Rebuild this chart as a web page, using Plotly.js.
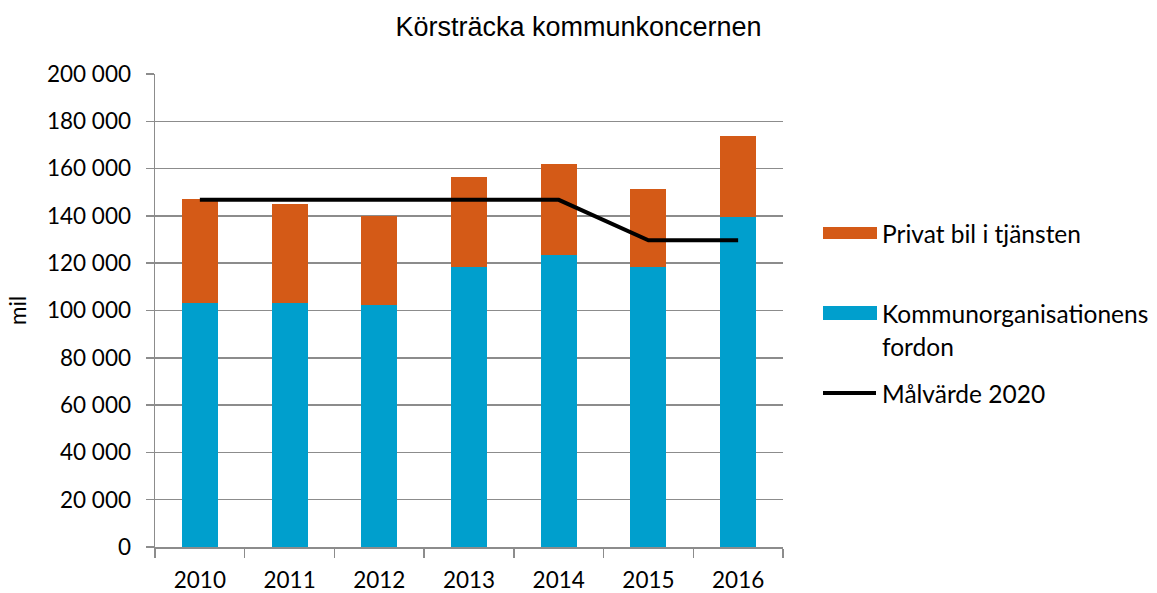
<!DOCTYPE html>
<html>
<head>
<meta charset="utf-8">
<script src="https://cdn.plot.ly/plotly-3.0.1.min.js"></script>
<style>html,body{margin:0;padding:0;background:#fff;}#chart{width:1157px;height:593px;}</style>
</head>
<body>
<div id="chart"></div>
<script>
const years = ['2010', '2011', '2012', '2013', '2014', '2015', '2016'];
const kommunFordon = [103000, 103000, 102200, 118600, 123300, 118300, 139700];
const privatBil = [44100, 42000, 37800, 38000, 38800, 33200, 34200];
const malvarde = [146800, 146800, 146800, 146800, 146800, 129700, 129700];
const seriesNames = ['Privat bil i tjänsten', 'Kommunorganisationens', 'fordon', 'Målvärde 2020'];
const colors = {blue: '#009FCD', orange: '#D45A17', line: '#000000', grid: '#8C8C8C'};

const tickFont = {family: 'Lato, "Open Sans", sans-serif', size: 22.5, color: '#000'};
const legendFont = {family: 'Lato, "Open Sans", sans-serif', size: 24.5, color: '#000'};

const traces = [
  {type: 'bar', x: years, y: kommunFordon, name: seriesNames[1], marker: {color: colors.blue}, showlegend: false, hoverinfo: 'skip'},
  {type: 'bar', x: years, y: privatBil, name: seriesNames[0], marker: {color: colors.orange}, showlegend: false, hoverinfo: 'skip'},
  {type: 'scatter', mode: 'lines', x: years, y: malvarde, name: seriesNames[3], line: {color: colors.line, width: 4}, showlegend: false, hoverinfo: 'skip'}
];

const W = 628, H = 473;
function px(x) { return (x - 155) / W; }
function py(y) { return (547 - y) / H; }

const layout = {
  width: 1157, height: 593,
  margin: {l: 155, r: 374, t: 74, b: 46},
  paper_bgcolor: '#fff', plot_bgcolor: '#fff',
  barmode: 'stack', bargap: 0.6,
  separators: ', ',
  title: {text: 'Körsträcka kommunkoncernen', x: 0.5, xref: 'container', y: 1 - 27 / 593, yref: 'container', yanchor: 'middle', xanchor: 'center',
          font: {family: '"Liberation Sans", Arial, sans-serif', size: 27, color: '#000'}},
  xaxis: {
    type: 'category', showgrid: false, showline: true, linecolor: colors.grid, linewidth: 1.5,
    ticks: 'outside', tickson: 'boundaries', ticklen: 9, tickcolor: colors.grid, tickwidth: 1.5,
    tickfont: tickFont, ticklabelstandoff: 12, fixedrange: true
  },
  yaxis: {
    range: [0, 200000], tickvals: [0,20000,40000,60000,80000,100000,120000,140000,160000,180000,200000],
    tickformat: ',d', showgrid: true, gridcolor: colors.grid, gridwidth: 1.5, zeroline: false,
    showline: true, linecolor: colors.grid, linewidth: 1.5,
    ticks: 'outside', ticklen: 8, tickcolor: colors.grid, tickwidth: 1.5,
    tickfont: tickFont, ticklabelstandoff: 10, fixedrange: true,
    title: {text: 'mil', font: tickFont, standoff: 14}
  },
  shapes: [
    {type: 'rect', xref: 'paper', yref: 'paper', x0: px(823), x1: px(877), y0: py(239), y1: py(227), fillcolor: colors.orange, line: {width: 0}},
    {type: 'rect', xref: 'paper', yref: 'paper', x0: px(823), x1: px(877), y0: py(320), y1: py(306), fillcolor: colors.blue, line: {width: 0}},
    {type: 'line', xref: 'paper', yref: 'paper', x0: px(823), x1: px(876), y0: py(393), y1: py(393), line: {color: colors.line, width: 4}}
  ],
  annotations: [
    {xref: 'paper', yref: 'paper', x: px(880), y: py(233), xanchor: 'left', yanchor: 'middle', text: seriesNames[0], showarrow: false, font: legendFont},
    {xref: 'paper', yref: 'paper', x: px(880), y: py(313), xanchor: 'left', yanchor: 'middle', text: seriesNames[1], showarrow: false, font: legendFont},
    {xref: 'paper', yref: 'paper', x: px(880), y: py(346), xanchor: 'left', yanchor: 'middle', text: seriesNames[2], showarrow: false, font: legendFont},
    {xref: 'paper', yref: 'paper', x: px(880), y: py(393), xanchor: 'left', yanchor: 'middle', text: seriesNames[3], showarrow: false, font: legendFont}
  ]
};

Plotly.newPlot('chart', traces, layout, {displayModeBar: false, staticPlot: true});
</script>
</body>
</html>
